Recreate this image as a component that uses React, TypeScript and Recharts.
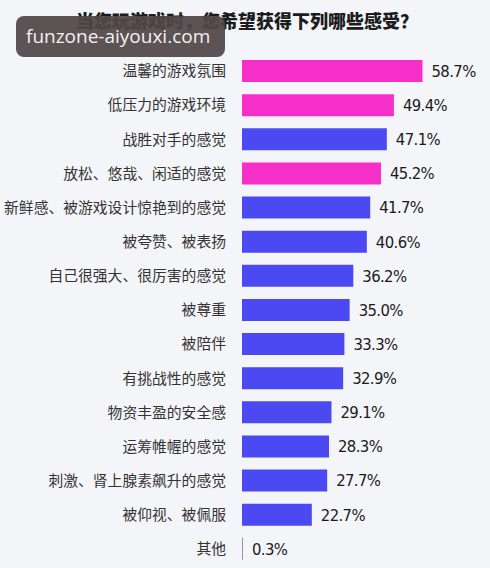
import React from "react";
import { BarChart, Bar, XAxis, YAxis, Cell, LabelList } from "recharts";

const categories: string[] = [
  "温馨的游戏氛围",
  "低压力的游戏环境",
  "战胜对手的感觉",
  "放松、悠哉、闲适的感觉",
  "新鲜感、被游戏设计惊艳到的感觉",
  "被夸赞、被表扬",
  "自己很强大、很厉害的感觉",
  "被尊重",
  "被陪伴",
  "有挑战性的感觉",
  "物资丰盈的安全感",
  "运筹帷幄的感觉",
  "刺激、肾上腺素飙升的感觉",
  "被仰视、被佩服",
  "其他",
];

const values: number[] = [58.7, 49.4, 47.1, 45.2, 41.7, 40.6, 36.2, 35.0, 33.3, 32.9, 29.1, 28.3, 27.7, 22.7, 0.3];

const highlighted: string[] = ["温馨的游戏氛围", "低压力的游戏环境", "放松、悠哉、闲适的感觉"];

const title = "当您玩游戏时，您希望获得下列哪些感受？";
const watermark = "funzone-aiyouxi.com";

const PINK = "#f52fc8";
const BLUE = "#4b49f1";
const GRAY = "#8a8a99";

const data = categories.map((name, i) => ({ name, value: values[i] }));

export default function App() {
  return (
    <div
      style={{
        position: "absolute",
        left: 0,
        top: 0,
        width: 490,
        height: 568,
        background: "#f4f5f8",
        overflow: "hidden",
      }}
    >
      <BarChart
        width={490}
        height={568}
        data={data}
        layout="vertical"
        margin={{ top: 54, right: 2, bottom: 2, left: 0 }}
        barCategoryGap={12}
      >
        <XAxis type="number" domain={[0, 80]} hide />
        <YAxis
          type="category"
          dataKey="name"
          width={242}
          axisLine={false}
          tickLine={false}
          tickSize={0}
          tickMargin={16}
          interval={0}
          tick={{ fill: "#333333", fontSize: 14.8, fontFamily: "'Noto Sans CJK SC', sans-serif" }}
        />
        <Bar dataKey="value" barSize={22} isAnimationActive={false}>
          {data.map((d) => (
            <Cell
              key={d.name}
              fill={highlighted.includes(d.name) ? PINK : d.value < 1 ? GRAY : BLUE}
            />
          ))}
          <LabelList
            dataKey="value"
            position="right"
            offset={9}
            formatter={(v: any) => `${Number(v).toFixed(1)}%`}
            style={{
              fill: "#1a1a1e",
              fontSize: 16.5,
              letterSpacing: -0.6,
              fontFamily: "'Liberation Sans Narrow', 'DejaVu Sans Condensed', sans-serif",
            }}
          />
        </Bar>
      </BarChart>
      <div
        style={{
          position: "absolute",
          left: 0,
          width: 490,
          top: 8,
          textAlign: "center",
          paddingLeft: 2,
          fontFamily: "'Noto Sans CJK SC', sans-serif",
          fontWeight: 900,
          fontSize: 18,
          lineHeight: "24px",
          color: "#1c1c1c",
        }}
      >
        {title}
      </div>
      <div
        style={{
          position: "absolute",
          left: 16,
          top: 16,
          width: 209,
          height: 41,
          borderRadius: 8,
          background: "rgba(80,70,71,0.93)",
          color: "#f2f0f0",
          fontFamily: "'Open Sans', sans-serif",
          fontSize: 19,
          lineHeight: "41px",
          paddingLeft: 10,
          boxSizing: "border-box",
          whiteSpace: "nowrap",
        }}
      >
        {watermark}
      </div>
    </div>
  );
}
